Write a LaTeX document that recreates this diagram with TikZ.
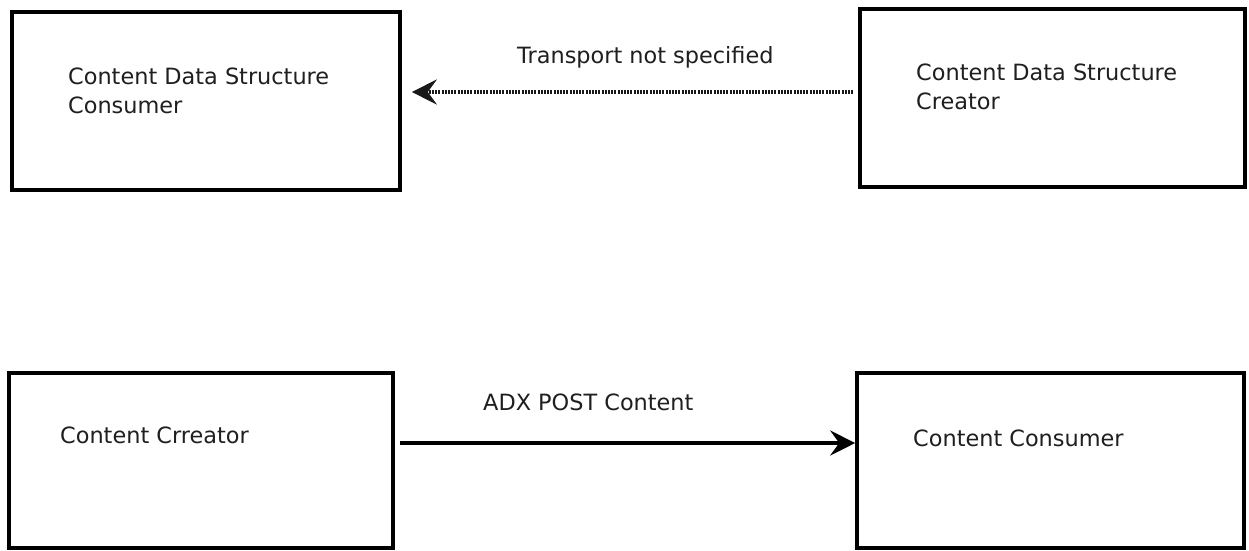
\documentclass[tikz,border=0pt]{standalone}
\usepackage{fontspec}
\setmainfont{DejaVu Sans}
\usetikzlibrary{arrows.meta,calc}
\begin{document}
\begin{tikzpicture}[x=1pt,y=-1pt,
  box/.style={draw=black, line width=3.6pt, rectangle, inner sep=0pt},
  lbl/.style={anchor=base west, inner sep=0pt, font=\fontsize{22.4}{28.5}\selectfont, text=black!88, align=left},
  conn/.style={draw=black, line width=3.2pt, -{Stealth[length=25pt,width=25pt,inset=9pt]}},
  dotconn/.style={conn, draw=black!90, dash pattern=on 2pt off 1.2pt}]
\useasboundingbox[fill=white] (0,0) rectangle (1249,550);
% boxes
\node[box, minimum width=388pt, minimum height=178pt] (dsconsumer) at (206,101) {};
\node[box, minimum width=385pt, minimum height=178pt] (dscreator) at (1052.5,98) {};
\node[box, minimum width=384pt, minimum height=175pt] (creator) at (201,460.5) {};
\node[box, minimum width=387pt, minimum height=175pt] (consumer) at (1050.5,460.5) {};
% box texts (base = last line)
\node[lbl] (t1) at (68,113) {Content Data Structure\\Consumer};
\node[lbl] (t2) at (916,109) {Content Data Structure\\Creator};
\node[lbl] (t3) at (60,443) {Content Crreator};
\node[lbl] (t4) at (913,446) {Content Consumer};
% connector labels
\node[lbl] (l1) at (517,63) {Transport not specified};
\node[lbl] (l2) at (483,410) {ADX POST Content};
% connectors
\draw[dotconn] ($(dscreator.west |- 0,92)+(-5,0)$) -- ($(dsconsumer.east |- 0,92)+(10,0)$);
\draw[conn] ($(creator.east |- 0,443)+(5,0)$) -- (consumer.west |- 0,443);
\end{tikzpicture}
\end{document}
